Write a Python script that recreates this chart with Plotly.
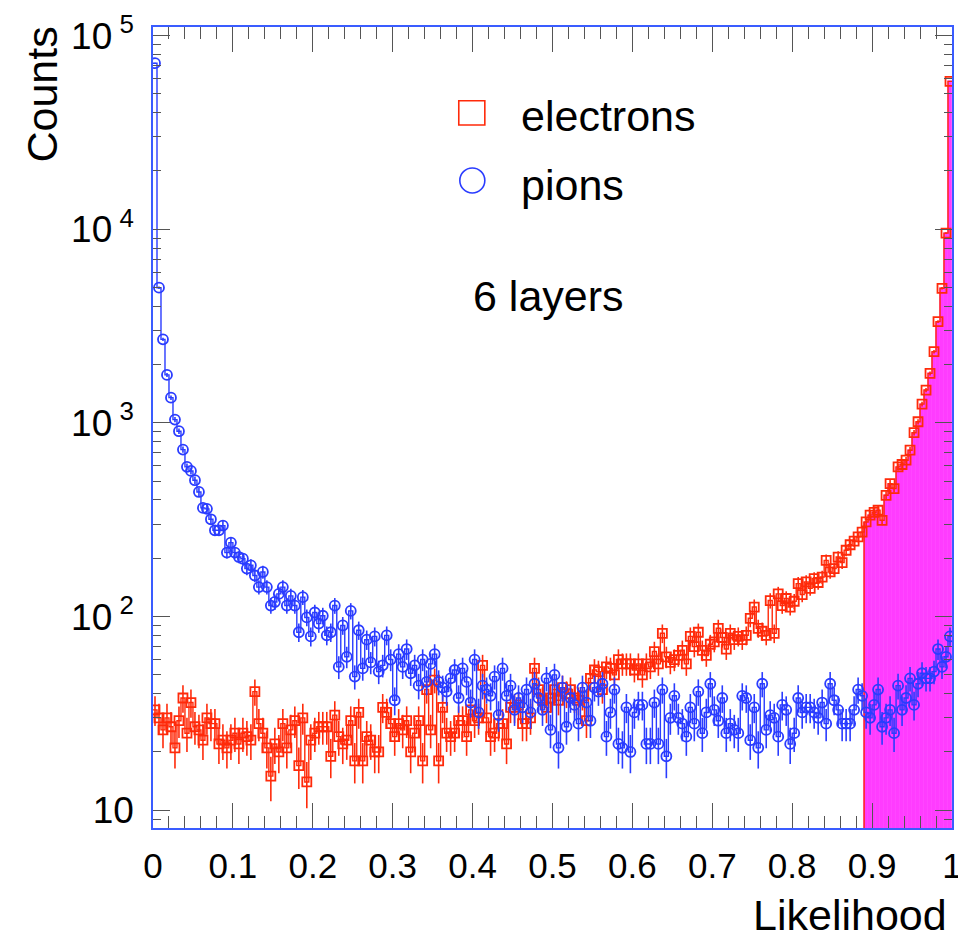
import numpy as np
import plotly.graph_objects as go

# ---------------- data ----------------
n_bins = 200
x_lo, x_hi = 0.0, 1.0

electrons = [
    33, 30, 26, 30, 27, 21, 29, 38, 25, 36,
    27, 26, 23, 30, 28, 28, 22, 23, 21, 23,
    25, 22, 25, 24, 23, 41, 28, 25, 21, 15,
    22, 20, 28, 21, 26, 29, 17, 30, 14, 23,
    25, 27, 27, 27, 19, 31, 24, 22, 23, 29,
    18, 32, 18, 24, 23, 20, 20, 34, 32, 28,
    24, 28, 26, 29, 20, 25, 29, 18, 42, 26,
    47, 18, 34, 25, 24, 25, 29, 29, 24, 33,
    29, 30, 56, 30, 24, 25, 28, 28, 22, 34,
    34, 35, 28, 28, 30, 54, 42, 37, 34, 38,
    42, 37, 43, 40, 42, 38, 37, 39, 29, 48,
    53, 52, 42, 55, 54, 50, 60, 57, 57, 57,
    53, 57, 50, 57, 55, 66, 57, 82, 62, 58,
    60, 63, 67, 57, 79, 70, 83, 67, 63, 72,
    74, 87, 78, 68, 82, 76, 79, 76, 80, 98,
    112, 87, 84, 80, 121, 82, 131, 114, 124, 112,
    120, 148, 130, 151, 140, 157, 150, 160, 195, 170,
    177, 203, 190, 220, 235, 245, 258, 273, 308, 334,
    345, 354, 314, 423, 486, 458, 593, 610, 642, 723,
    890, 1014, 1250, 1478, 1802, 2333, 3334, 4955, 9550, 58000,
]

pions = [
    72000, 4990, 2700, 1770, 1350, 1040, 906, 728, 593, 565,
    506, 440, 364, 360, 318, 279, 279, 295, 214, 241,
    214, 203, 199, 177, 184, 163, 142, 170, 142, 114,
    119, 131, 142, 114, 128, 114, 83, 126, 99, 79,
    105, 92, 101, 80, 83, 114, 55, 90, 62, 107,
    49, 85, 54, 76, 58, 79, 52, 56, 80, 60,
    37, 64, 55, 68, 51, 56, 44, 60, 46, 57,
    64, 46, 43, 41, 48, 53, 38, 54, 46, 36,
    60, 32, 44, 42, 39, 49, 31, 54, 39, 44,
    33, 38, 34, 42, 32, 45, 38, 33, 48, 26,
    50, 21, 43, 27, 38, 35, 28, 43, 36, 29,
    43, 41, 45, 24, 32, 42, 22, 21, 34, 20,
    32, 35, 35, 22, 22, 36, 22, 42, 19, 30,
    39, 30, 28, 24, 34, 28, 41, 25, 32, 45,
    33, 29, 38, 25, 28, 26, 25, 39, 38, 23,
    34, 21, 45, 26, 31, 30, 24, 35, 33, 22,
    25, 38, 32, 34, 34, 32, 30, 36, 28, 45,
    37, 33, 28, 28, 28, 33, 42, 39, 32, 30,
    35, 42, 27, 30, 33, 25, 44, 33, 38, 48,
    35, 45, 51, 48, 48, 52, 68, 55, 62, 79,
]

fill_start = 0.89          # electrons above this likelihood are shaded
y_lo, y_hi = 8.1, 1.107e5  # visible count range

x_tick_vals = [0, 0.1, 0.2, 0.3, 0.4, 0.5, 0.6, 0.7, 0.8, 0.9, 1]
x_tick_text = ["0", "0.1", "0.2", "0.3", "0.4", "0.5", "0.6", "0.7", "0.8", "0.9", "1"]
y_tick_vals = [10, 100, 1000, 10000, 100000]
y_tick_text = ["10", "10<sup> 2</sup>", "10<sup> 3</sup>", "10<sup> 4</sup>", "10<sup> 5</sup>"]

series_names = ["electrons", "pions"]
note_text = "6 layers"
x_title = "Likelihood"
y_title = "Counts"

# ---------------- styling ----------------
RED = "#ff2a0a"
BLUE = "#2a3cff"
MAGENTA = "#ff3cff"
FRAME = "#3a5cff"
TICK = "#555555"
FONT = "Liberation Sans, Arial, Helvetica, sans-serif"

e = np.array(electrons, dtype=float)
p = np.array(pions, dtype=float)
edges = np.linspace(x_lo, x_hi, n_bins + 1)
centers = 0.5 * (edges[:-1] + edges[1:])
bw = edges[1] - edges[0]

fig = go.Figure()

# shaded electron region
mask = centers > fill_start
fig.add_trace(go.Bar(
    x=centers[mask], y=e[mask], width=bw,
    marker=dict(color=MAGENTA, line=dict(color=MAGENTA, width=0.6)),
    showlegend=False, hoverinfo="skip"))

# electron histogram outline
fig.add_trace(go.Scatter(
    x=edges, y=np.append(e, e[-1]), mode="lines",
    line=dict(color=RED, width=1.4, shape="hv"),
    showlegend=False, hoverinfo="skip"))
fig.add_trace(go.Scatter(
    x=[fill_start, fill_start], y=[y_lo, e[mask][0]], mode="lines",
    line=dict(color=RED, width=1.4), showlegend=False, hoverinfo="skip"))

# electron markers with errors
fig.add_trace(go.Scatter(
    x=centers, y=e, mode="markers", name=series_names[0],
    marker=dict(symbol="square-open", size=9, color=RED, line=dict(width=1.8, color=RED)),
    error_y=dict(type="data", array=np.sqrt(e), thickness=1.6, width=0, color=RED),
    showlegend=False))

# pion histogram outline
fig.add_trace(go.Scatter(
    x=edges, y=np.append(p, p[-1]), mode="lines",
    line=dict(color=BLUE, width=1.4, shape="hv"),
    showlegend=False, hoverinfo="skip"))

# pion markers with errors
fig.add_trace(go.Scatter(
    x=centers, y=p, mode="markers", name=series_names[1],
    marker=dict(symbol="circle-open", size=10, color=BLUE, line=dict(width=1.8, color=BLUE)),
    error_y=dict(type="data", array=np.sqrt(p), thickness=1.6, width=0, color=BLUE),
    showlegend=False))

# y minor ticks (2..9 in every decade)
y_minor = [m * 10 ** d for d in range(0, 6) for m in range(2, 10) if y_lo <= m * 10 ** d <= y_hi]

fig.update_layout(
    width=958, height=937,
    margin=dict(l=153, r=6, t=27, b=109, autoexpand=False),
    paper_bgcolor="white", plot_bgcolor="white",
    font=dict(family=FONT, color="black"),
    bargap=0,
    xaxis=dict(
        range=[x_lo, x_hi], tickvals=x_tick_vals, ticktext=x_tick_text,
        ticks="inside", ticklen=25, tickwidth=1, tickcolor=TICK,
        minor=dict(ticks="inside", ticklen=12, tickwidth=1, tickcolor=TICK, dtick=0.02, showgrid=False),
        showline=True, linecolor=FRAME, linewidth=1.5, mirror="ticks",
        showgrid=False, zeroline=False, automargin=False,
        tickfont=dict(size=35, family=FONT, color="black"),
        ticklabelstandoff=6, ticklabeloverflow="allow",
    ),
    yaxis=dict(
        type="log", range=[np.log10(y_lo), np.log10(y_hi)],
        tickvals=y_tick_vals, ticktext=y_tick_text,
        ticks="inside", ticklen=17, tickwidth=1, tickcolor=TICK,
        minor=dict(ticks="inside", ticklen=8, tickwidth=1, tickcolor=TICK, tickvals=y_minor, showgrid=False),
        showline=True, linecolor=FRAME, linewidth=1.5, mirror="ticks",
        showgrid=False, zeroline=False, automargin=False,
        tickfont=dict(size=37, family=FONT, color="black"),
        ticklabelstandoff=10, ticklabeloverflow="allow",
    ),
    showlegend=False,
)

# legend drawn by hand (symbols larger than the data markers)
fig.add_shape(type="rect", xref="paper", yref="paper",
              x0=0.3827, x1=0.4153, y0=0.8777, y1=0.908,
              line=dict(color=RED, width=1.6), fillcolor="rgba(0,0,0,0)")
fig.add_shape(type="circle", xref="paper", yref="paper",
              x0=0.384, x1=0.4153, y0=0.7928, y1=0.824,
              line=dict(color=BLUE, width=1.6), fillcolor="rgba(0,0,0,0)")

ann_font = dict(family=FONT, size=43, color="black")
fig.add_annotation(text=series_names[0], xref="paper", yref="paper", x=0.458, y=0.889,
                   xanchor="left", yanchor="middle", showarrow=False, font=ann_font)
fig.add_annotation(text=series_names[1], xref="paper", yref="paper", x=0.458, y=0.803,
                   xanchor="left", yanchor="middle", showarrow=False, font=ann_font)
fig.add_annotation(text=note_text, xref="paper", yref="paper", x=0.398, y=0.664,
                   xanchor="left", yanchor="middle", showarrow=False, font=ann_font)
fig.add_annotation(text=x_title, xref="paper", yref="paper", x=0.996, y=-0.1086,
                   xanchor="right", yanchor="middle", showarrow=False, font=ann_font)
fig.add_annotation(text=y_title, xref="paper", yref="paper", x=-0.139, y=1.003,
                   xanchor="center", yanchor="top", textangle=-90, showarrow=False, font=ann_font)

fig.write_html("out.html",
               config={"displayModeBar": False},
               post_script="document.body.style.margin='0px';document.body.style.overflow='hidden';")
